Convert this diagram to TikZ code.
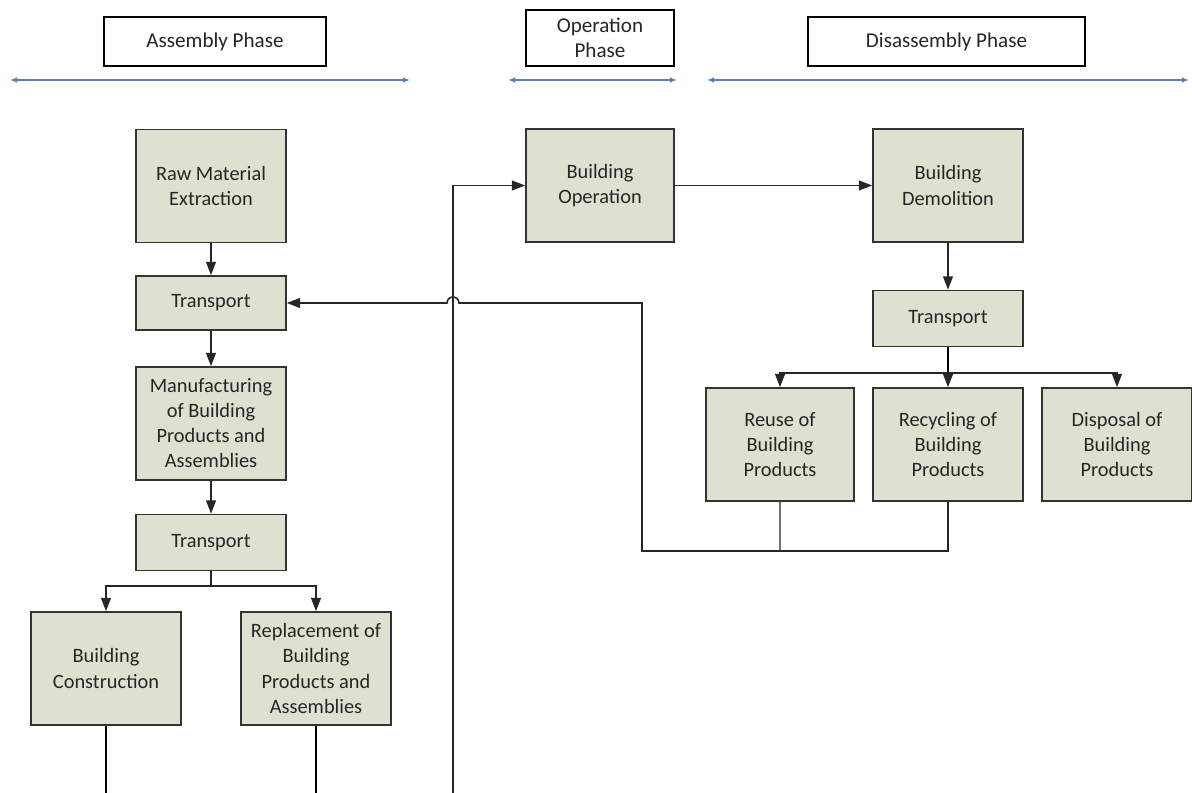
\documentclass[tikz,border=0pt]{standalone}
\usepackage{fontspec}
\setmainfont{Carlito}
\usepackage{xcolor}
\usepackage{tikz}
\usetikzlibrary{arrows.meta}
\definecolor{boxfill}{RGB}{221,225,208}
\definecolor{phaseblue}{RGB}{92,126,186}

\begin{document}
\begin{tikzpicture}[x=0.025cm, y=-0.025cm, line width=1.1pt,
  stage/.style={draw=black!80, fill=boxfill, text=black!85, align=center,
    minimum width=3.75cm, minimum height=2.825cm, inner sep=1pt,
    font=\fontsize{14.5}{17.8}\selectfont},
  short/.style={stage, minimum height=1.4cm},
  phase/.style={draw=black, line width=0.9pt, fill=white, align=center, text=black!85,
    minimum height=1.225cm, font=\fontsize{15}{17.8}\selectfont},
  flow/.style={-{Triangle[length=9.5pt,width=7pt]}, draw=black!85},
  span/.style={{Latex[length=5pt,width=4pt]}-{Latex[length=5pt,width=4pt]}, phaseblue, line width=1pt}]
  \useasboundingbox (0,0) rectangle (1192,793);
  \node[phase, minimum width=5.55cm] (asm) at (215,41.5) {Assembly Phase};
  \node[phase, minimum width=3.7cm, minimum height=1.4cm] (opp) at (600,38) {Operation\\Phase};
  \node[phase, minimum width=6.925cm] (dis) at (946.5,41.5) {Disassembly Phase};
  \coordinate (asmL) at (10,80);  \coordinate (asmR) at (410,80);
  \coordinate (oppL) at (508,80); \coordinate (oppR) at (677,80);
  \coordinate (disL) at (707,80); \coordinate (disR) at (1189,80);
  \draw[span] (asmL) -- (asmR);
  \draw[span] (oppL) -- (oppR);
  \draw[span] (disL) -- (disR);

  \node[stage] (raw) at (211,186) {Raw Material\\Extraction};
  \node[short, minimum height=1.35cm] (tr1) at (211,303) {Transport};
  \node[stage] (manu) at (211,423.5) {Manufacturing\\of Building\\Products and\\Assemblies};
  \node[short] (tr2) at (211,542.5) {Transport};
  \node[stage] (cons) at (106,668.5) {Building\\Construction};
  \node[stage] (repl) at (316,668.5) {Replacement of\\Building\\Products and\\Assemblies};
  \node[stage, minimum width=3.7cm] (oper) at (600,185.5) {Building\\Operation};
  \node[stage] (demo) at (948,185.5) {Building\\Demolition};
  \node[short] (tr3) at (948,318.5) {Transport};
  \node[stage, minimum width=3.7cm] (reuse) at (780,444.5) {Reuse of\\Building\\Products};
  \node[stage] (recy) at (948,444.5) {Recycling of\\Building\\Products};
  \node[stage] (disp) at (1117,444.5) {Disposal of\\Building\\Products};

  \draw[flow] (raw) -- (tr1);
  \draw[flow] (tr1) -- (manu);
  \draw[flow] (manu) -- (tr2);
  \coordinate (split2) at (211,586);
  \draw[flow] (tr2.south) -- (split2) -| (cons.north);
  \draw[flow] (split2) -| (repl.north);
  \coordinate (consEnd) at (106,793);
  \coordinate (replEnd) at (316,793);
  \coordinate (operFoot) at (453,793);
  \draw (cons.south) -- (consEnd);
  \draw (repl.south) -- (replEnd);
  \draw[flow] (operFoot) |- (oper.west);
  \draw[flow] (oper) -- (demo);
  \draw[flow] (demo) -- (tr3);
  \coordinate (split3) at (948,373);
  \draw (tr3.south) -- (split3);
  \draw[flow] (split3) -| (reuse.north);
  \draw[flow] (split3) -- (recy.north);
  \draw[flow] (split3) -| (disp.north);
  \coordinate (back) at (642,551);
  \draw[black!55] (reuse.south) -- (reuse.south |- back);
  \draw[flow] (recy.south) -- (recy.south |- back) -- (back) -- (642,303)
    -- (459,303) arc[start angle=0, end angle=180, radius=0.15cm] -- (tr1.east);
\end{tikzpicture}
\end{document}
